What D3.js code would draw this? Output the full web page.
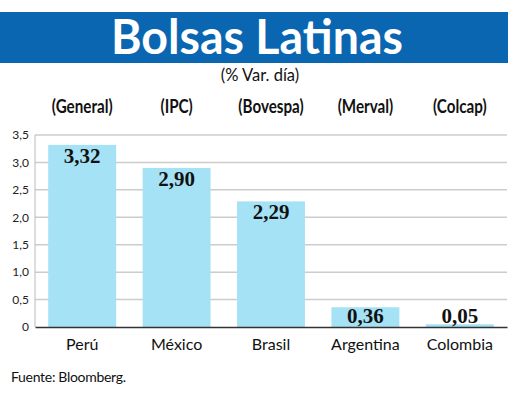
<!DOCTYPE html>
<html>
<head>
<meta charset="utf-8">
<script src="https://cdn.jsdelivr.net/npm/d3@7"></script>
<style>
  body { margin: 0; background: #fff; }
  svg { display: block; }
  .tick text { font-family: Lato, 'DejaVu Sans', sans-serif; }
</style>
</head>
<body>
<div id="chart"></div>
<script>
const paises = ['Perú', 'México', 'Brasil', 'Argentina', 'Colombia']
const indices = ['(General)', '(IPC)', '(Bovespa)', '(Merval)', '(Colcap)']
const variacion = [3.32, 2.90, 2.29, 0.36, 0.05]
const yTicks = [0, 0.5, 1.0, 1.5, 2.0, 2.5, 3.0, 3.5]

const width = 520
const height = 401
const margin = { left: 35, right: 12, top: 135, bottom: 74 }

const fmt = v => d3.format('.2f')(v).replace('.', ',')
const fmtTick = v => v === 0 ? '0' : d3.format('.1f')(v).replace('.', ',')

const svg = d3.select('#chart')
  .append('svg')
  .attr('width', width)
  .attr('height', height)

// title band
svg.append('rect')
  .attr('x', 0).attr('y', 12)
  .attr('width', 508).attr('height', 51)
  .attr('fill', '#0b66b1')

svg.append('text')
  .attr('x', 257).attr('y', 54)
  .attr('text-anchor', 'middle')
  .attr('font-family', 'Lato, sans-serif')
  .attr('font-weight', 'bold')
  .attr('font-size', 47)
  .attr('textLength', 292)
  .attr('lengthAdjust', 'spacingAndGlyphs')
  .attr('fill', '#fff')
  .text('Bolsas Latinas')

svg.append('text')
  .attr('x', 260).attr('y', 81)
  .attr('text-anchor', 'middle')
  .attr('font-family', 'Lato, sans-serif')
  .attr('font-size', 16.5)
  .attr('fill', '#111')
  .text('(% Var. día)')

const x = d3.scaleBand()
  .domain(paises)
  .range([margin.left, width - margin.right - 1])
  .paddingInner(0.28)
  .paddingOuter(0.14)

const y = d3.scaleLinear()
  .domain([0, 3.5])
  .range([height - margin.bottom, margin.top])

// gridlines
svg.append('g')
  .selectAll('line')
  .data(yTicks.filter(d => d > 0))
  .join('line')
  .attr('x1', margin.left)
  .attr('x2', x.range()[1])
  .attr('y1', d => y(d))
  .attr('y2', d => y(d))
  .attr('stroke', '#cccccc')
  .attr('stroke-width', 1.5)

// left axis line
svg.append('line')
  .attr('x1', margin.left).attr('x2', margin.left)
  .attr('y1', y(3.5)).attr('y2', y(0))
  .attr('stroke', '#bbb')
  .attr('stroke-width', 1)

// y tick labels
const yAxis = svg.append('g')
  .attr('transform', `translate(${margin.left},0)`)
  .call(d3.axisLeft(y).tickValues(yTicks).tickFormat(fmtTick).tickSize(0).tickPadding(6))
yAxis.select('.domain').remove()
yAxis.selectAll('text')
  .attr('font-size', 12)
  .attr('fill', '#222')

// index names above bars (condensed look via horizontal scale)
svg.append('g')
  .selectAll('text')
  .data(indices)
  .join('text')
  .attr('transform', (d, i) => `translate(${x(paises[i]) + x.bandwidth() / 2},113) scale(0.8,1)`)
  .attr('text-anchor', 'middle')
  .attr('font-family', 'Lato, sans-serif')
  .attr('font-weight', 'bold')
  .attr('font-size', 19)
  .attr('fill', '#111')
  .text(d => d)

// bars
svg.append('g')
  .selectAll('rect')
  .data(variacion)
  .join('rect')
  .attr('x', (d, i) => x(paises[i]))
  .attr('y', d => y(d))
  .attr('width', x.bandwidth())
  .attr('height', d => y(0) - y(d))
  .attr('fill', '#a6e2f6')

// value labels
svg.append('g')
  .selectAll('text')
  .data(variacion)
  .join('text')
  .attr('x', (d, i) => x(paises[i]) + x.bandwidth() / 2)
  .attr('y', d => Math.min(y(d) + 18, y(0) - 4))
  .attr('text-anchor', 'middle')
  .attr('font-family', "'Liberation Serif', serif")
  .attr('font-weight', 'bold')
  .attr('font-size', 21)
  .attr('fill', '#111')
  .text(fmt)

// baseline + category labels
const xAxis = svg.append('g')
  .attr('transform', `translate(0,${y(0)})`)
  .call(d3.axisBottom(x).tickSize(0).tickPadding(12))
xAxis.select('.domain')
  .attr('stroke', '#333')
  .attr('stroke-width', 1.5)
xAxis.selectAll('text')
  .attr('font-size', 16)
  .attr('fill', '#111')

svg.append('text')
  .attr('x', 11).attr('y', 382)
  .attr('font-family', 'Lato, sans-serif')
  .attr('font-size', 14)
  .attr('letter-spacing', -0.3)
  .attr('fill', '#111')
  .text('Fuente: Bloomberg.')
</script>
</body>
</html>
